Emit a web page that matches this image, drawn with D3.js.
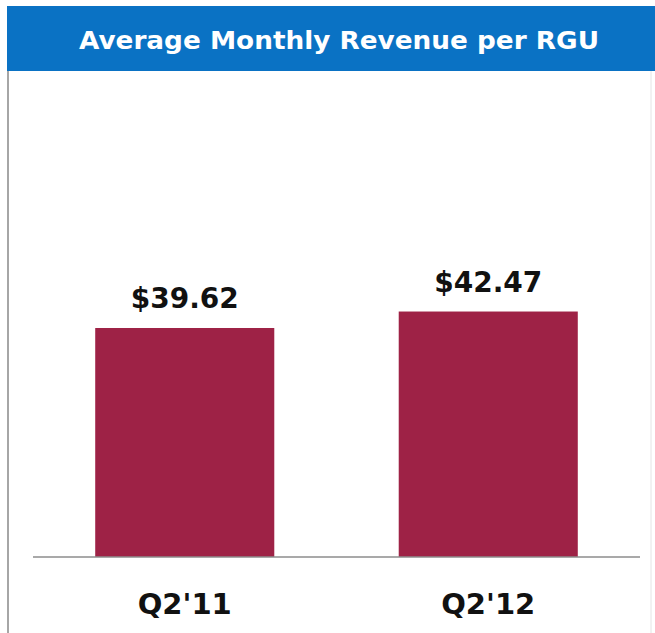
<!DOCTYPE html>
<html>
<head>
<meta charset="utf-8">
<script src="https://cdn.jsdelivr.net/npm/d3@7"></script>
<style>
  html, body { margin: 0; padding: 0; background: #ffffff; }
  svg { display: block; }
</style>
</head>
<body>
<script>
const title = "Average Monthly Revenue per RGU";
const categories = ["Q2'11", "Q2'12"];
const values = [39.62, 42.47];
const valueLabels = ["$39.62", "$42.47"];

const W = 655, H = 633;
const svg = d3.select("body").append("svg").attr("width", W).attr("height", H);

// panel borders
svg.append("line").attr("x1", 8).attr("x2", 8).attr("y1", 70).attr("y2", H)
  .attr("stroke", "#a6a6a6").attr("stroke-width", 2);
svg.append("line").attr("x1", 651).attr("x2", 651).attr("y1", 70).attr("y2", H)
  .attr("stroke", "#e4e4e4").attr("stroke-width", 1);

// header
svg.append("rect").attr("x", 7).attr("y", 6).attr("width", W - 7).attr("height", 65)
  .attr("fill", "#0a72c4");
svg.append("text").attr("x", 339).attr("y", 49).attr("text-anchor", "middle")
  .attr("font-family", "DejaVu Sans, Verdana, sans-serif").attr("font-weight", "bold")
  .attr("font-size", 25).attr("fill", "#ffffff").attr("textLength", 520)
  .attr("lengthAdjust", "spacingAndGlyphs").text(title);

const baseY = 557;
const x = d3.scaleBand().domain(categories).range([33, 640]).paddingInner(0.41).paddingOuter(0.205);
const y = d3.scaleLinear().domain([0, 50]).range([baseY, baseY - 289]);

svg.selectAll("rect.bar").data(values).join("rect").attr("class", "bar")
  .attr("x", (d, i) => x(categories[i]))
  .attr("width", x.bandwidth())
  .attr("y", d => y(d))
  .attr("height", d => baseY - y(d))
  .attr("fill", "#9e2246");

svg.selectAll("text.val").data(values).join("text").attr("class", "val")
  .attr("x", (d, i) => x(categories[i]) + x.bandwidth() / 2)
  .attr("y", d => y(d) - 20)
  .attr("text-anchor", "middle")
  .attr("font-family", "DejaVu Sans, Verdana, sans-serif").attr("font-weight", "bold")
  .attr("font-size", 28).attr("fill", "#111111")
  .text((d, i) => valueLabels[i]);

// baseline axis
const axis = d3.axisBottom(x).tickSize(0).tickPadding(0);
const gAxis = svg.append("g").attr("transform", `translate(0,${baseY})`).call(axis);
gAxis.select(".domain").attr("stroke", "#8c8c8c").attr("stroke-width", 1.5)
  .attr("d", "M33,0H640");
gAxis.selectAll(".tick text")
  .attr("y", 57).attr("dy", 0)
  .attr("font-family", "DejaVu Sans, Verdana, sans-serif").attr("font-weight", "bold")
  .attr("font-size", 29).attr("fill", "#111111");
</script>
</body>
</html>
